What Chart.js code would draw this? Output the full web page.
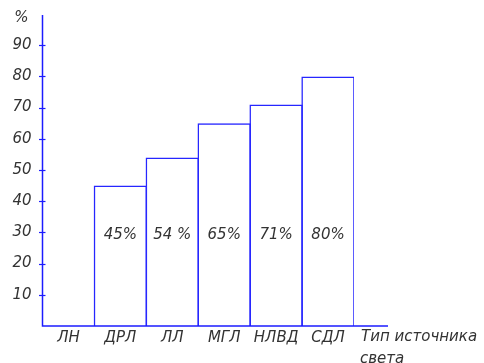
<!DOCTYPE html>
<html lang="ru">
<head>
    <meta charset="UTF-8">
    <script src="https://cdn.jsdelivr.net/npm/chart.js"></script>
    <title>Световая отдача</title>
    <style>
        body { margin: 0; background: #fff; }
        canvas { display: block; }
    </style>
</head>
<body>
    <canvas id="grafico" width="484" height="363"></canvas>
</body>
</html>
<script>
    // типы источников и их значения, %
    var tipos = ['ЛН', 'ДРЛ', 'ЛЛ', 'МГЛ', 'НЛВД', 'СДЛ']
    var valores = [0, 45, 54, 65, 71, 80]
    var rotulos = ['', '45%', '54 %', '65%', '71%', '80%']
    var ticksY = [10, 20, 30, 40, 50, 60, 70, 80, 90]

    var azul = '#2626ff'
    var texto = '#333'
    var fonte = "'DejaVu Sans', sans-serif"
    var linha = 1.5

    // eixos, marcas e textos desenhados por cima
    var eixos = {
        id: 'eixos',
        afterDatasetsDraw(chart) {
            var ctx = chart.ctx
            var area = chart.chartArea
            var y = chart.scales.y
            var x = chart.scales.x
            ctx.save()
            ctx.strokeStyle = '#1c1cff'
            ctx.lineWidth = 1.5
            ctx.beginPath()
            ctx.moveTo(area.left, area.top + 1)
            ctx.lineTo(area.left, area.bottom)
            ctx.lineTo(area.right + 34, area.bottom)
            ctx.stroke()
            ctx.lineWidth = 1.2
            ticksY.forEach(function (v) {
                var py = Math.round(y.getPixelForValue(v)) + 0.5
                ctx.beginPath()
                ctx.moveTo(area.left - 3.5, py)
                ctx.lineTo(area.left + 3, py)
                ctx.stroke()
            })
            ctx.fillStyle = texto
            ctx.font = 'oblique 15px ' + fonte
            ctx.textAlign = 'center'
            ctx.textBaseline = 'middle'
            var py = y.getPixelForValue(29)
            rotulos.forEach(function (r, i) {
                if (r) ctx.fillText(r, x.getPixelForValue(i), py)
            })
            ctx.fillText('%', area.left - 21, y.getPixelForValue(100) + 4)
            ctx.textAlign = 'left'
            ctx.fillText('Тип источника', area.right + 7, area.bottom + 11)
            ctx.fillText('света', area.right + 6, area.bottom + 33)
            ctx.restore()
        }
    }

    var grafico = new Chart(document.getElementById('grafico'), {
        type: 'bar',
        data: {
            labels: tipos,
            datasets: [{
                data: valores,
                backgroundColor: 'rgba(255,255,255,0)',
                borderColor: azul,
                borderWidth: linha,
                borderSkipped: 'bottom',
                inflateAmount: 0,
                // colunas vizinhas partilham a mesma linha
                barPercentage: (52 + linha) / 52,
                categoryPercentage: 1
            }]
        },
        options: {
            responsive: false,
            animation: false,
            layout: { padding: { top: 14, right: 130 } },
            plugins: {
                legend: { display: false },
                tooltip: { enabled: false }
            },
            scales: {
                x: {
                    grid: { display: false },
                    border: { display: false },
                    ticks: {
                        color: texto,
                        padding: -5,
                        font: { family: fonte, size: 15, style: 'oblique' }
                    },
                    afterFit: function (s) { s.height = 37 }
                },
                y: {
                    min: 0,
                    max: 100,
                    grid: { display: false },
                    border: { display: false },
                    ticks: {
                        stepSize: 10,
                        padding: 3,
                        color: texto,
                        font: { family: fonte, size: 15, style: 'oblique' },
                        callback: function (v) {
                            if (v == 100 || v == 0) return ''
                            return v
                        }
                    },
                    afterFit: function (s) { s.width = 42.5 }
                }
            }
        },
        plugins: [eixos]
    })
</script>
